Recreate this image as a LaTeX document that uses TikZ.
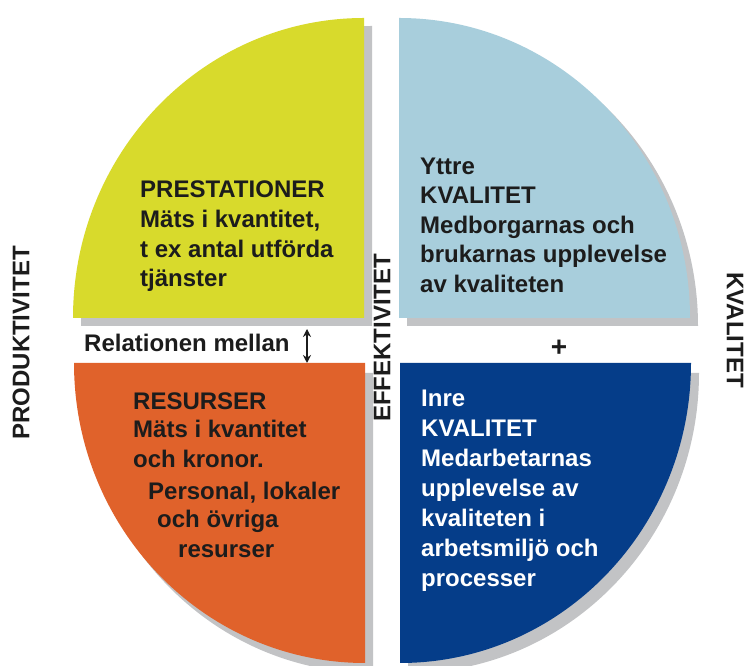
\documentclass[tikz,border=0pt]{standalone}
\usepackage{fontspec}
\setmainfont{Liberation Sans}
\usetikzlibrary{arrows.meta}
\definecolor{cyell}{HTML}{D8DA2C}
\definecolor{clblue}{HTML}{A8CEDC}
\definecolor{corange}{HTML}{E0622B}
\definecolor{cdblue}{HTML}{053D89}
\definecolor{cshadow}{HTML}{C2C3C5}
\definecolor{ctext}{HTML}{1C1C1C}
\tikzset{
  x=1pt, y=1pt,
  shadowq/.style={fill=cshadow, draw=none},
  txt/.style={anchor=base west, inner sep=0pt, text=ctext, font=\fontsize{24}{29}\selectfont\bfseries},
  wtxt/.style={txt, text=white},
  vtxt/.style={inner sep=0pt, text=ctext, font=\fontsize{24}{29}\selectfont\bfseries},
}
\begin{document}
\begin{tikzpicture}
\useasboundingbox (0,0) rectangle (747,666);
\fill[white] (0,0) rectangle (747,666);
% shadows
\fill[shadowq] (372,340) -- ++(0,300) arc[start angle=90,end angle=180,x radius=291pt,y radius=300pt] -- cycle;
\fill[shadowq] (407,340) -- ++(0,300) arc[start angle=90,end angle=0,x radius=291pt,y radius=300pt] -- cycle;
\fill[shadowq] (373,293) -- ++(-291,0) arc[start angle=180,end angle=270,x radius=291pt,y radius=300pt] -- cycle;
\fill[shadowq] (408,293) -- ++(291,0) arc[start angle=0,end angle=-90,x radius=291pt,y radius=300pt] -- cycle;
% quadrants
\fill[cyell] (364,348) -- ++(0,300) arc[start angle=90,end angle=180,x radius=291pt,y radius=300pt] -- cycle;
\fill[clblue] (399,348) -- ++(0,300) arc[start angle=90,end angle=0,x radius=291pt,y radius=300pt] -- cycle;
\fill[corange] (365,303) -- ++(-291,0) arc[start angle=180,end angle=270,x radius=291pt,y radius=300pt] -- cycle;
\fill[cdblue] (400,303) -- ++(291,0) arc[start angle=0,end angle=-90,x radius=291pt,y radius=300pt] -- cycle;
% yellow text
\node[txt] (y1) at (140,468) {PRESTATIONER};
\node[txt] (y2) at (140,438) {Mäts i kvantitet,};
\node[txt] (y3) at (140,408) {t ex antal utförda};
\node[txt] (y4) at (140,379) {tjänster};
% light blue text
\node[txt] (b1) at (420,491) {Yttre};
\node[txt] (b2) at (420,462) {KVALITET};
\node[txt] (b3) at (420,432) {Medborgarnas och};
\node[txt] (b4) at (420,403) {brukarnas upplevelse};
\node[txt] (b5) at (420,373) {av kvaliteten};
% orange text
\node[txt] (o1) at (133,256) {RESURSER};
\node[txt] (o2) at (133,228) {Mäts i kvantitet};
\node[txt] (o3) at (133,198) {och kronor.};
\node[txt] (o4) at (148,166) {Personal, lokaler};
\node[txt] (o5) at (157,138) {och övriga};
\node[txt] (o6) at (178,108) {resurser};
% dark blue text
\node[wtxt] (d1) at (421,259) {Inre};
\node[wtxt] (d2) at (421,229) {KVALITET};
\node[wtxt] (d3) at (421,199) {Medarbetarnas};
\node[wtxt] (d4) at (421,169) {upplevelse av};
\node[wtxt] (d5) at (421,139) {kvaliteten i};
\node[wtxt] (d6) at (421,109) {arbetsmiljö och};
\node[wtxt] (d7) at (421,79) {processer};
% middle labels
\node[txt] (rel) at (84,314) {Relationen mellan};
\coordinate (at) at (307,337);
\coordinate (ab) at (307,303);
\draw[ctext, line width=1.6pt, {Stealth[length=8pt,width=8pt]}-{Stealth[length=8pt,width=8pt]}] (at) -- (ab);
\node[vtxt, font=\fontsize{28}{29}\selectfont\bfseries] (plus) at (559,318) {+};
% vertical labels
\node[vtxt, rotate=90] (prod) at (21,323) {PRODUKTIVITET};
\node[vtxt, rotate=90] (eff) at (382,328) {EFFEKTIVITET};
\node[vtxt, rotate=-90] (kval) at (735,336) {KVALITET};
\end{tikzpicture}
\end{document}
